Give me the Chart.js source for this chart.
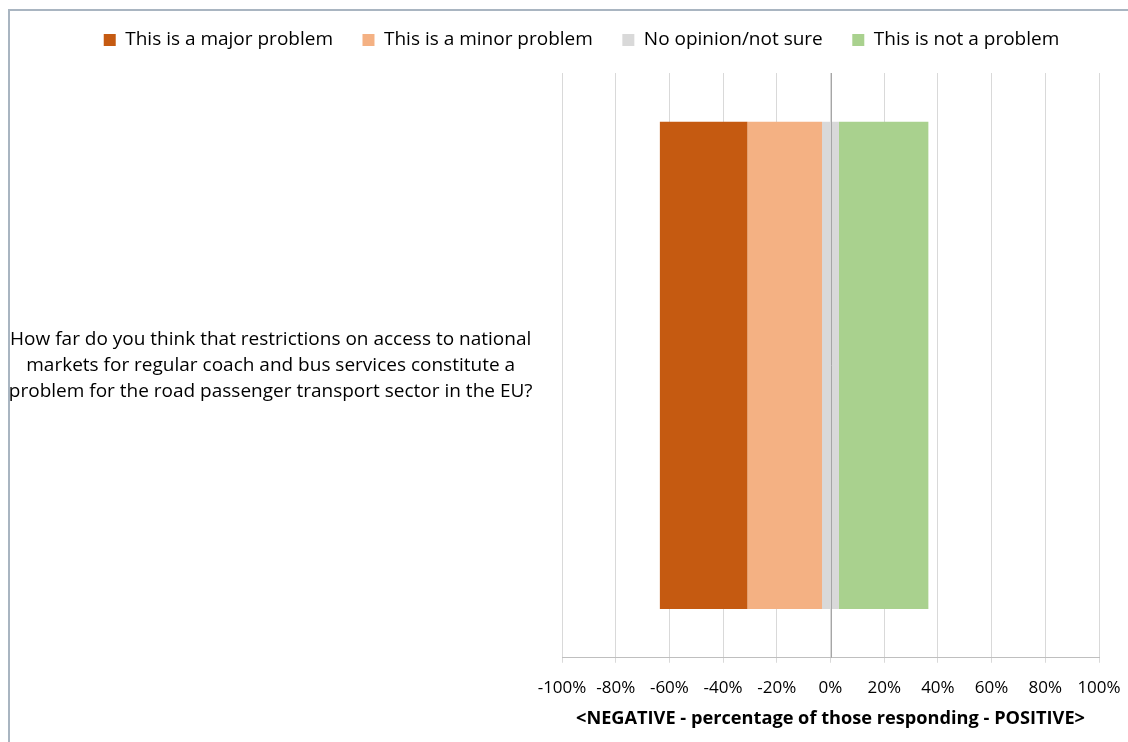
<!DOCTYPE html>
<html>
<head>
<meta charset="utf-8">
<script src="https://cdn.jsdelivr.net/npm/chart.js@4.4.1/dist/chart.umd.min.js"></script>
<style>
  html, body { margin: 0; padding: 0; background: #ffffff; }
  #wrap { position: relative; width: 1128px; height: 742px; overflow: hidden; }
  #frame { position: absolute; left: 8px; top: 9px; width: 1200px; height: 800px;
           border-left: 2px solid #a9b5c1; border-top: 2px solid #a9b5c1; box-sizing: border-box; }
  canvas { position: absolute; left: 0; top: 0; }
</style>
</head>
<body>
<div id="wrap">
  <div id="frame"></div>
  <canvas id="chart" width="1128" height="742"></canvas>
</div>
<script>
// Survey question shown on the category axis (one label, three lines)
const categories = [[
  "How far do you think that restrictions on access to national",
  "markets for regular coach and bus services constitute a",
  "problem for the road passenger transport sector in the EU?"
]];

// Answer shares in percent of those responding
const majorProblem = [32.6];
const minorProblem = [27.8];
const noOpinion    = [6.3];
const notProblem   = [33.3];

const seriesNames = [
  "This is a major problem",
  "This is a minor problem",
  "No opinion/not sure",
  "This is not a problem"
];
const seriesColors = ["#C55A11", "#F4B183", "#D9D9D9", "#A9D18E"];

const axisTicks = [-100, -80, -60, -40, -20, 0, 20, 40, 60, 80, 100];
const axisTitle = "<NEGATIVE - percentage of those responding - POSITIVE>";

// Diverging layout: negatives to the left of zero, neutral answers split around zero
const ranges = { major: [], minor: [], neutral: [], positive: [] };
categories.forEach((_, i) => {
  const half = noOpinion[i] / 2;
  ranges.major.push([-(half + minorProblem[i] + majorProblem[i]), -(half + minorProblem[i])]);
  ranges.minor.push([-(half + minorProblem[i]), -half]);
  ranges.neutral.push([-half, half]);
  ranges.positive.push([half, half + notProblem[i]]);
});

const FONT = "'Open Sans'";

// Fixed legend band height and a small horizontal offset of the legend row
const legendPlacement = {
  id: "legendPlacement",
  beforeInit(chart) {
    const fit = chart.legend.fit;
    chart.legend.fit = function () {
      fit.call(this);
      this.height = 72;
    };
  },
  afterLayout(chart) {
    chart.legend.left += 27;
    chart.legend.right += 27;
  }
};

// Zero axis line drawn over the bars
const zeroLine = {
  id: "zeroLine",
  afterDatasetsDraw(chart) {
    const { ctx, chartArea, scales } = chart;
    const x = Math.round(scales.x.getPixelForValue(0)) + 0.5;
    ctx.save();
    ctx.strokeStyle = "#a6a6a6";
    ctx.lineWidth = 1;
    ctx.beginPath();
    ctx.moveTo(x, chartArea.top);
    ctx.lineTo(x, chartArea.bottom);
    ctx.stroke();
    ctx.restore();
  }
};

new Chart(document.getElementById("chart"), {
  type: "bar",
  data: {
    labels: categories,
    datasets: [
      { label: seriesNames[0], data: ranges.major,    backgroundColor: seriesColors[0] },
      { label: seriesNames[1], data: ranges.minor,    backgroundColor: seriesColors[1] },
      { label: seriesNames[2], data: ranges.neutral,  backgroundColor: seriesColors[2] },
      { label: seriesNames[3], data: ranges.positive, backgroundColor: seriesColors[3] }
    ]
  },
  plugins: [legendPlacement, zeroLine],
  options: {
    indexAxis: "y",
    responsive: false,
    animation: false,
    barPercentage: 0.833,
    categoryPercentage: 1,
    layout: { padding: { top: 1, left: 10, right: 29, bottom: 12 } },
    plugins: {
      tooltip: { enabled: false },
      legend: {
        position: "top",
        labels: {
          boxWidth: 12,
          boxHeight: 12,
          padding: 29.5,
          color: "#000000",
          font: { family: FONT, size: 19 }
        }
      }
    },
    scales: {
      y: {
        stacked: true,
        grid: { display: false, drawTicks: false },
        border: { display: false },
        ticks: {
          crossAlign: "center",
          padding: 29.5,
          color: "#000000",
          font: { family: FONT, size: 19, lineHeight: 1.37 }
        },
        afterFit(scale) { scale.width = 552; }
      },
      x: {
        min: -100,
        max: 100,
        afterBuildTicks(scale) { scale.ticks = axisTicks.map(v => ({ value: v })); },
        afterFit(scale) { scale.paddingLeft = 0; scale.paddingRight = 0; },
        grid: { color: "#d9d9d9", tickLength: 5, lineWidth: 1 },
        border: { display: true, color: "#bfbfbf" },
        ticks: {
          padding: 15,
          color: "#000000",
          font: { family: FONT, size: 17 },
          maxRotation: 0,
          callback: v => v + "%"
        },
        title: {
          display: true,
          text: axisTitle,
          color: "#000000",
          font: { family: FONT, size: 18.2, weight: "bold" },
          padding: { top: -5, bottom: 0 }
        }
      }
    }
  }
});
</script>
</body>
</html>
